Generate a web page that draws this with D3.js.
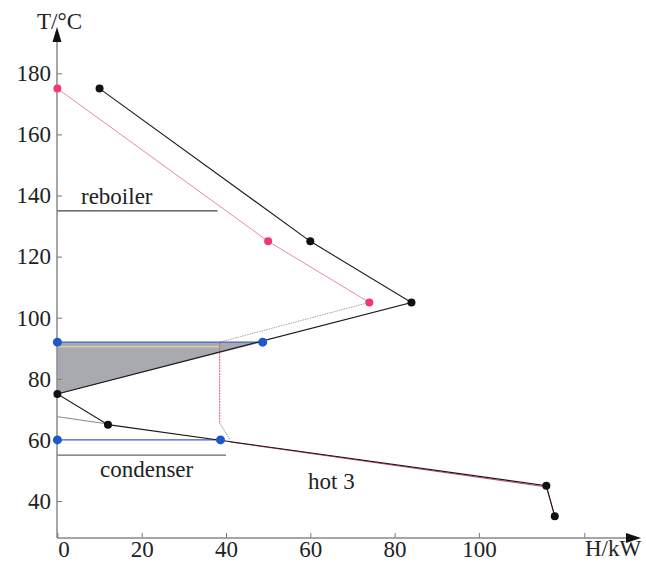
<!DOCTYPE html>
<html>
<head>
<meta charset="utf-8">
<script src="https://cdn.jsdelivr.net/npm/d3@7"></script>
<style>
  body { margin: 0; background: #fff; }
  svg text { font-family: "Liberation Serif", "Times New Roman", serif; fill: #222; }
</style>
</head>
<body>
<div id="chart"></div>
<script>
// ---- data (H in kW, T in °C) ----
let hotCurve = [[10,175],[60,125],[84,105],[0,75],[12,65],[116,45],[118,35]];
let pinkSolid = [[0,175],[50,125],[74,105]];
let pinkDotted = [[74,105],[38.5,92]];
let pinkVert = [[38.5,92],[38.5,65.5]];
let pinkKink = [[38.5,65.5],[41,60]];
let pinkLow = [[41,59.3],[116,44.6],[118,35]];
let blueTop = [[0,92],[48.7,92]];
let blueBottom = [[0,60],[38.7,60]];
let pocket = [[0,92],[48.7,92],[0,75]];
let greyStub = [[0,67.6],[12,65.2]];
let yellowLine = [[0,90.5],[38.5,90.5]];
let reboiler = [[0,135],[38,135]];
let condenser = [[0,55],[40,55]];
let xTicks = [0,20,40,60,80,100,125];
let yTicks = [40,60,80,100,120,140,160,180];

let width = 646, height = 569;
let x = d3.scaleLinear().domain([0,100]).range([57.4, 478.9]);
let y = d3.scaleLinear().domain([40,180]).range([501, 73.3]);
let axisY = 538, axisX = 57;

const svg = d3.select("#chart").append("svg")
    .attr("width", width)
    .attr("height", height);

let line = d3.line().x(d => x(d[0])).y(d => y(d[1]));

// shaded pocket
svg.append("path")
    .attr("d", line(pocket) + "Z")
    .attr("fill", "#a9aaaf")
    .attr("stroke", "none");

// axes
let xAxis = svg.append("g")
    .attr("transform", `translate(0,${axisY})`)
    .call(d3.axisBottom(x).tickValues(xTicks).tickSize(-5).tickPadding(3)
        .tickFormat(d => d > 100 ? "" : d));
let yAxis = svg.append("g")
    .attr("transform", `translate(${axisX},0)`)
    .call(d3.axisLeft(y).tickValues(yTicks).tickSize(-5).tickPadding(6));
[xAxis, yAxis].forEach(a => {
    a.select(".domain").remove();
    a.selectAll("line").attr("stroke", "#777");
    a.selectAll("text").style("font-size", "23px").attr("fill", "#222");
});
xAxis.selectAll("text").filter(d => d === 0).attr("dx", 6);

svg.append("line").attr("x1", axisX).attr("x2", 628).attr("y1", axisY).attr("y2", axisY)
    .attr("stroke", "#888").attr("stroke-width", 1.5);
svg.append("path").attr("d", `M626,${axisY-5}L641,${axisY}L626,${axisY+5}Z`).attr("fill", "#111");
svg.append("line").attr("x1", axisX).attr("x2", axisX).attr("y1", axisY).attr("y2", 40)
    .attr("stroke", "#777").attr("stroke-width", 1.3);
svg.append("path").attr("d", `M${axisX-4.5},42L${axisX},27L${axisX+4.5},42Z`).attr("fill", "#111");

svg.append("text").attr("x", 37).attr("y", 29).style("font-size", "23px").text("T/°C");
svg.append("text").attr("x", 585).attr("y", 556).style("font-size", "23px").text("H/kW");

// utility lines
svg.append("path").attr("d", line(reboiler)).attr("stroke", "#444").attr("stroke-width", 1.2).attr("fill", "none");
svg.append("path").attr("d", line(condenser)).attr("stroke", "#666").attr("stroke-width", 1.2).attr("fill", "none");

// faint helper lines
svg.append("path").attr("d", line(yellowLine)).attr("stroke", "#e4e49a").attr("stroke-width", 1).attr("fill", "none");
svg.append("path").attr("d", line(greyStub)).attr("stroke", "#888").attr("stroke-width", 1).attr("fill", "none");

// pink curve
svg.append("path").attr("d", line(pinkSolid)).attr("stroke", "#e88aa2").attr("stroke-width", 1).attr("fill", "none");
svg.append("path").attr("d", line(pinkDotted)).attr("stroke", "#b0a090").attr("stroke-width", 1)
    .attr("stroke-dasharray", "1.5,1").attr("fill", "none");
svg.append("path").attr("d", line(pinkVert)).attr("stroke", "#e0507a").attr("stroke-width", 1)
    .attr("stroke-dasharray", "2,0.8").attr("fill", "none");
svg.append("path").attr("d", line(pinkKink)).attr("stroke", "#999060").attr("stroke-width", 1)
    .attr("stroke-dasharray", "1.5,1").attr("fill", "none");
svg.append("path").attr("d", line(pinkLow)).attr("stroke", "#d8406a").attr("stroke-width", 1).attr("fill", "none");

// blue lines
[blueTop, blueBottom].forEach(seg => {
    svg.append("path").attr("d", line(seg)).attr("stroke", "#3a5fd0").attr("stroke-width", 1.3).attr("fill", "none");
});

// black composite curve
svg.append("path").attr("d", line(hotCurve)).attr("stroke", "#1a1a1a").attr("stroke-width", 1.1).attr("fill", "none");

// markers
svg.selectAll(".pk").data(pinkSolid).join("circle")
    .attr("cx", d => x(d[0])).attr("cy", d => y(d[1])).attr("r", 4).attr("fill", "#f2386e");
svg.selectAll(".bl").data(blueTop.concat(blueBottom)).join("circle")
    .attr("cx", d => x(d[0])).attr("cy", d => y(d[1])).attr("r", 4.5).attr("fill", "#1f57c9");
svg.selectAll(".bk").data(hotCurve).join("circle")
    .attr("cx", d => x(d[0])).attr("cy", d => y(d[1])).attr("r", 4).attr("fill", "#111");

// labels
svg.append("text").attr("x", 81).attr("y", 204).style("font-size", "23px").text("reboiler");
svg.append("text").attr("x", 100).attr("y", 477).style("font-size", "23px").text("condenser");
svg.append("text").attr("x", 308).attr("y", 489).style("font-size", "23px").text("hot 3");
</script>
</body>
</html>
